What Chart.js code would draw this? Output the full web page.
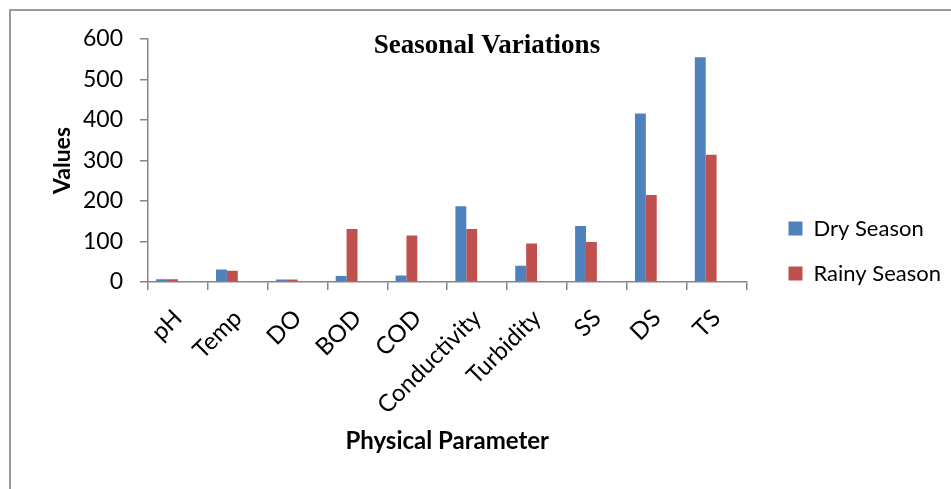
<!DOCTYPE html>
<html>
<head>
<meta charset="utf-8">
<script src="https://cdn.jsdelivr.net/npm/chart.js@4.4.1/dist/chart.umd.min.js"></script>
<style>
  html, body { margin: 0; padding: 0; background: #fff; }
</style>
</head>
<body>
<canvas id="chart" width="951" height="489"></canvas>
<script>
'use strict';

// values
const categories = ['pH', 'Temp', 'DO', 'BOD', 'COD', 'Conductivity', 'Turbidity', 'SS', 'DS', 'TS'];
const drySeason = [7, 31, 6, 15, 16, 187, 40, 138, 416, 555];
const rainySeason = [7, 28, 6, 131, 115, 131, 95, 99, 215, 314];
const seriesNames = ['Dry Season', 'Rainy Season'];
const seriesColors = ['#4F81BD', '#C0504D'];
const yTicks = [0, 100, 200, 300, 400, 500, 600];
const chartTitle = 'Seasonal Variations';
const xTitle = 'Physical Parameter';
const yTitle = 'Values';

const AXIS_GREY = '#868686';
const FONT = 'Lato, "Open Sans", sans-serif';

// outer frame of the picture (only left and top edges show)
const framePlugin = {
  id: 'frame',
  beforeDraw(chart){
    const ctx = chart.ctx;
    ctx.save();
    ctx.strokeStyle = '#9a9a9a';
    ctx.lineWidth = 2;
    ctx.beginPath();
    ctx.moveTo(10, chart.height);
    ctx.lineTo(10, 10);
    ctx.lineTo(chart.width, 10);
    ctx.stroke();
    ctx.restore();
  }
};

// title sits inside the plot top, centred on the frame
const titlePlugin = {
  id: 'seasonTitle',
  afterDraw(chart){
    const ctx = chart.ctx;
    ctx.save();
    ctx.font = 'bold 27px "Liberation Serif", "Times New Roman", serif';
    ctx.fillStyle = '#000';
    ctx.textAlign = 'center';
    ctx.textBaseline = 'middle';
    ctx.fillText(chartTitle, 487, 46);
    ctx.restore();
  }
};

new Chart(document.getElementById('chart'), {
  type: 'bar',
  data: {
    labels: categories,
    datasets: [
      { label: seriesNames[0], data: drySeason, backgroundColor: seriesColors[0], borderWidth: 0 },
      { label: seriesNames[1], data: rainySeason, backgroundColor: seriesColors[1], borderWidth: 0 },
      // two empty series, as in the source sheet, keep the bars left of the tick centre
      { label: '', data: [], backgroundColor: 'rgba(0,0,0,0)' },
      { label: '', data: [], backgroundColor: 'rgba(0,0,0,0)' }
    ]
  },
  options: {
    responsive: false,
    animation: false,
    events: [],
    categoryPercentage: 4 / 5.5,
    barPercentage: 1,
    layout: { padding: { top: 39, left: 0, right: 0, bottom: 26 } },
    plugins: {
      tooltip: { enabled: false },
      legend: {
        position: 'right',
        align: 'center',
        maxWidth: 187,
        labels: {
          boxWidth: 14,
          boxHeight: 14,
          padding: 23,
          color: '#000',
          font: { family: FONT, size: 22 },
          filter: item => item.datasetIndex < 2
        }
      }
    },
    scales: {
      x: {
        grid: { drawOnChartArea: false, color: AXIS_GREY, lineWidth: 1.5, tickLength: 8 },
        border: { color: AXIS_GREY, width: 1.5 },
        ticks: {
          autoSkip: false, minRotation: 45, maxRotation: 45, padding: 14,
          color: '#000', font: { family: FONT, size: 24 }
        },
        title: {
          display: true, text: xTitle, color: '#000',
          font: { family: FONT, size: 24, weight: 'bold' },
          padding: { top: 0, bottom: 7 }
        },
        afterFit: s => { s.height = 181; }
      },
      y: {
        min: 0,
        max: 600,
        afterBuildTicks: s => { s.ticks = yTicks.map(v => ({ value: v })); },
        grid: { drawOnChartArea: false, color: AXIS_GREY, lineWidth: 1.5, tickLength: 8 },
        border: { color: AXIS_GREY, width: 1.5 },
        ticks: { padding: 17, color: '#000', font: { family: FONT, size: 23 } },
        title: {
          display: true, text: yTitle, color: '#000',
          font: { family: FONT, size: 23, weight: 'bold' },
          padding: { top: 49, bottom: 0 }
        },
        afterFit: s => { s.width = 148; }
      },
      // spacer between plot and legend
      gap: {
        type: 'linear',
        position: 'right',
        display: true,
        grid: { display: false },
        border: { display: false },
        ticks: { display: false },
        afterFit: s => { s.width = 19; }
      }
    }
  },
  plugins: [framePlugin, titlePlugin]
});
</script>
</body>
</html>
